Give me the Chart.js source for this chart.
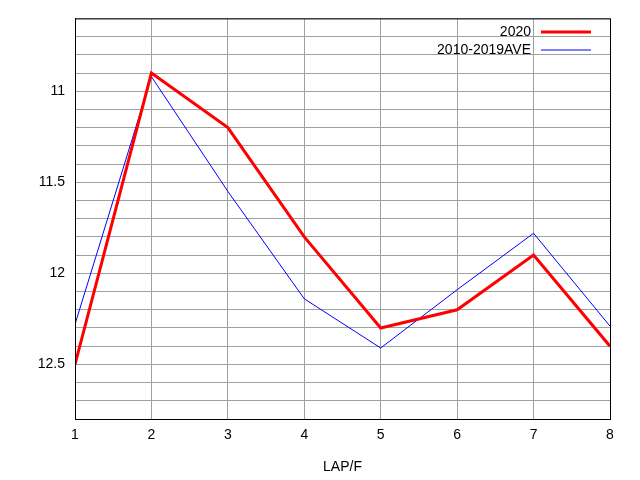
<!DOCTYPE html>
<html>
<head>
<script src="https://cdn.jsdelivr.net/npm/chart.js@4/dist/chart.umd.min.js"></script>
<style>body{margin:0;background:#fff}#c{display:block}</style>
</head>
<body>
<canvas id="c" width="640" height="480"></canvas>
<script>
const laps = [1, 2, 3, 4, 5, 6, 7, 8];
const y2020 = [12.5, 10.9, 11.2, 11.8, 12.3, 12.2, 11.9, 12.4];
const yAve = [12.28, 10.92, 11.55, 12.14, 12.41, 12.09, 11.78, 12.29];
const seriesNames = ["2020", "2010-2019AVE"];

Chart.defaults.font.family = "Liberation Sans";
Chart.defaults.font.size = 14;
Chart.defaults.color = "#000";

// gnuplot-like legend drawn inside the top right corner
const keyPlugin = {
    id: "key",
    afterDraw(chart) {
        const ctx = chart.ctx;
        ctx.save();
        ctx.font = "14px Liberation Sans";
        ctx.textAlign = "right";
        ctx.textBaseline = "middle";
        chart.data.datasets.forEach((ds, i) => {
            const y = 32 + i * 18;
            ctx.fillStyle = "#000";
            ctx.fillText(ds.label, 531, y);
            ctx.strokeStyle = ds.borderColor;
            ctx.lineWidth = ds.borderWidth;
            ctx.beginPath();
            ctx.moveTo(541, y);
            ctx.lineTo(591, y);
            ctx.stroke();
        });
        ctx.restore();
    }
};

const grid = {
    color: "#a0a0a0",
    borderDash: [1, 2],
    drawTicks: false
};

new Chart(document.getElementById("c"), {
    type: "line",
    data: {
        labels: laps,
        datasets: [{
            label: seriesNames[0],
            data: laps.map((x, i) => ({ x: x, y: y2020[i] })),
            borderColor: "#ff0000",
            borderWidth: 3,
            pointRadius: 0,
            tension: 0
        }, {
            label: seriesNames[1],
            data: laps.map((x, i) => ({ x: x, y: yAve[i] })),
            borderColor: "#0000ff",
            borderWidth: 1,
            pointRadius: 0,
            tension: 0
        }]
    },
    options: {
        animation: false,
        responsive: false,
        layout: { padding: { top: 18, right: 30, left: 0, bottom: 0 } },
        plugins: { legend: { display: false }, tooltip: { enabled: false } },
        scales: {
            x: {
                type: "linear",
                min: 1,
                max: 8,
                ticks: { stepSize: 1, padding: 8 },
                grid: grid,
                border: { color: "#000", width: 1 },
                title: { display: true, text: "LAP/F", padding: { top: 12 } },
                afterFit: s => { s.height = 61; }
            },
            y: {
                reverse: true,
                min: 10.6,
                max: 12.8,
                ticks: {
                    stepSize: 0.1,
                    autoSkip: false,
                    padding: 10,
                    callback: v => Math.abs(v * 2 - Math.round(v * 2)) < 1e-6 ? String(Math.round(v * 10) / 10) : ""
                },
                grid: grid,
                border: { color: "#000", width: 1 },
                afterFit: s => { s.width = 75; }
            }
        }
    },
    plugins: [keyPlugin, {
        id: "frame",
        afterDraw(chart) {
            const a = chart.chartArea, ctx = chart.ctx;
            ctx.save();
            ctx.strokeStyle = "#000";
            ctx.lineWidth = 1;
            ctx.strokeRect(a.left + 0.5, a.top + 0.5, a.right - a.left, a.bottom - a.top);
            ctx.restore();
        }
    }]
});
</script>
</body>
</html>
